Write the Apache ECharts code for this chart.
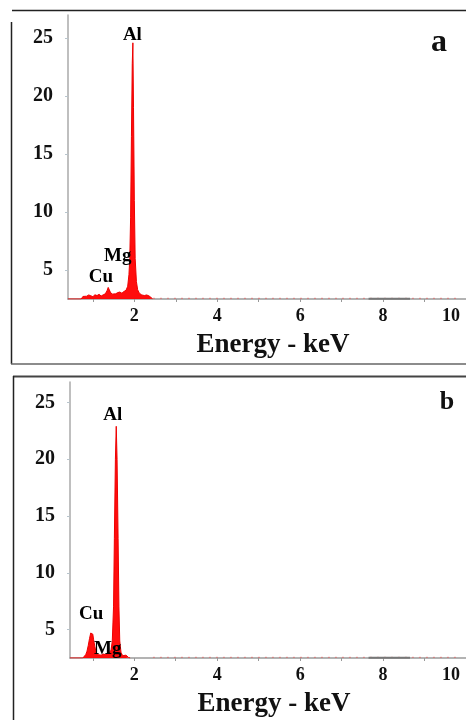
<!DOCTYPE html>
<html>
<head>
<meta charset="utf-8">
<script src="https://cdn.jsdelivr.net/npm/echarts@6/dist/echarts.min.js"></script>
<style>
html,body{margin:0;padding:0;background:#fff;}
#chart{width:466px;height:720px;}
</style>
</head>
<body>
<div id="chart"></div>
<script>
// ---- Data ----
// Panel a spectrum
const energyA = [0.40, 0.72, 0.76, 0.80, 0.85, 0.90, 0.95, 1.00, 1.05, 1.10, 1.15, 1.20, 1.25, 1.30, 1.34, 1.37, 1.39, 1.42, 1.46, 1.50, 1.55, 1.60, 1.65, 1.70, 1.75, 1.80, 1.84, 1.87, 1.89, 1.91, 1.93, 1.95, 1.965, 1.98, 2.00, 2.02, 2.05, 2.08, 2.12, 2.18, 2.24, 2.30, 2.36, 2.40, 2.44];
const countsA = [2.5, 2.5, 2.72, 2.8, 2.74, 2.85, 2.78, 2.7, 2.86, 2.8, 2.9, 2.76, 2.86, 2.95, 3.2, 3.5, 3.45, 3.1, 2.92, 3.0, 2.95, 3.05, 3.1, 3.0, 3.15, 3.25, 3.6, 4.6, 6.0, 9.5, 16.5, 22.8, 24.6, 19, 11, 6.0, 4.0, 3.3, 3.0, 2.85, 2.8, 2.85, 2.75, 2.7, 2.52];
// Panel b spectrum
const energyB = [0.45, 0.76, 0.80, 0.83, 0.86, 0.89, 0.92, 0.95, 0.98, 1.00, 1.02, 1.05, 1.08, 1.11, 1.15, 1.20, 1.25, 1.30, 1.35, 1.40, 1.44, 1.47, 1.50, 1.52, 1.545, 1.565, 1.585, 1.61, 1.63, 1.65, 1.68, 1.72, 1.76, 1.80, 1.83, 1.86, 1.90];
const countsB = [2.5, 2.5, 2.62, 2.8, 3.1, 3.6, 4.2, 4.7, 4.85, 4.6, 4.1, 3.5, 3.0, 2.8, 2.7, 2.75, 2.85, 2.8, 2.9, 2.95, 3.2, 4.0, 7.0, 13, 20, 22.9, 20, 13, 7.0, 4.0, 3.0, 2.7, 2.6, 2.75, 2.7, 2.55, 2.5];
// Baseline noise tail and darker baseline segment
const tailEnergy = [2.45, 9.8];
const tailCounts = [2.56, 2.56];
const segEnergy = [7.65, 8.65];
const segCounts = [2.52, 2.52];
// Peak labels: [energy, counts] anchor of each element label
const peakNamesA = ['Al', 'Mg', 'Cu'];
const peakEnergyA = [1.953, 1.60, 1.196];
const peakCountsA = [25.3, 6.2, 4.4];
const peakNamesB = ['Al', 'Cu', 'Mg'];
const peakEnergyB = [1.48, 0.96, 1.36];
const peakCountsB = [23.9, 6.37, 3.29];
// Axis ticks / labels
const xTickValues = [1, 2, 3, 4, 5, 6, 7, 8, 9, 10];
const xLabelValues = [2, 4, 6, 8, 10];
const yLabelValues = [5, 10, 15, 20, 25];
const xTitle = 'Energy - keV';

const FONT = '"Liberation Serif", "Times New Roman", serif';
const zip = (a, b) => a.map((v, i) => [v, b[i]]);

function xAxis(gridIndex, min) {
  return {
    type: 'value', gridIndex, min, max: 10,
    axisLine: { show: true, lineStyle: { color: '#9a9a9a', width: 1.5 } },
    axisTick: { show: true, length: 3, customValues: xTickValues, lineStyle: { color: '#999' } },
    splitLine: { show: false },
    axisLabel: {
      customValues: xLabelValues, margin: 8, color: '#111',
      fontFamily: FONT, fontWeight: 'bold', fontSize: 18,
      formatter: v => v === 10 ? '{s|10}' : String(v),
      rich: { s: { fontFamily: FONT, fontWeight: 'bold', fontSize: 18, color: '#111', padding: [0, 30, 0, 0] } }
    },
    name: xTitle, nameLocation: 'middle', nameGap: 33,
    nameTextStyle: { color: '#111', fontFamily: FONT, fontWeight: 'bold', fontSize: 27, padding: [0, 0, 0, 12] }
  };
}
function yAxis(gridIndex, max) {
  return {
    type: 'value', gridIndex, min: 2.5, max,
    axisLine: { show: true, lineStyle: { color: '#aaa', width: 1.5 } },
    axisTick: { show: true, length: 3, customValues: yLabelValues, lineStyle: { color: '#b8c4cc' } },
    splitLine: { show: false },
    axisLabel: { customValues: yLabelValues, margin: 15, color: '#111', fontFamily: FONT, fontWeight: 'bold', fontSize: 20 }
  };
}
function spectrum(i, e, c) {
  return {
    type: 'line', xAxisIndex: i, yAxisIndex: i, data: zip(e, c),
    showSymbol: false, symbol: 'none', z: 3,
    lineStyle: { color: '#ee0000', width: 1 },
    areaStyle: { color: '#ff0000', opacity: 0.95, origin: 'start' }
  };
}
function tail(i) {
  return {
    type: 'line', xAxisIndex: i, yAxisIndex: i, data: zip(tailEnergy, tailCounts),
    symbol: 'none', z: 2,
    lineStyle: { color: '#e06060', width: 1, type: [2, 5], opacity: 0.7 }
  };
}
function seg(i) {
  return {
    type: 'line', xAxisIndex: i, yAxisIndex: i, data: zip(segEnergy, segCounts),
    symbol: 'none', z: 2, lineStyle: { color: '#777', width: 2 }
  };
}
function labels(i, names, e, c) {
  return {
    type: 'scatter', xAxisIndex: i, yAxisIndex: i, symbolSize: 0, silent: true, z: 5,
    itemStyle: { opacity: 1 },
    data: names.map((n, k) => ({ name: n, value: [e[k], c[k]] })),
    label: { show: true, position: 'inside', formatter: '{b}', color: '#000', opacity: 1, fontFamily: FONT, fontWeight: 'bold', fontSize: 19 }
  };
}

const chart = echarts.init(document.getElementById('chart'), null, { renderer: 'canvas' });
chart.setOption({
  animation: false,
  backgroundColor: '#fff',
  grid: [
    { left: 68, top: 15, width: 406, height: 284 },
    { left: 70, top: 382, width: 404, height: 276 }
  ],
  xAxis: [xAxis(0, 0.4), xAxis(1, 0.45)],
  yAxis: [yAxis(0, 27), yAxis(1, 26.8)],
  series: [
    tail(0), seg(0), spectrum(0, energyA, countsA), labels(0, peakNamesA, peakEnergyA, peakCountsA),
    tail(1), seg(1), spectrum(1, energyB, countsB), labels(1, peakNamesB, peakEnergyB, peakCountsB)
  ],
  graphic: [
    { type: 'line', shape: { x1: 12, y1: 10.5, x2: 466, y2: 10.5 }, style: { stroke: '#222', lineWidth: 1.5 } },
    { type: 'line', shape: { x1: 11.5, y1: 22, x2: 11.5, y2: 364 }, style: { stroke: '#222', lineWidth: 1.5 } },
    { type: 'line', shape: { x1: 11, y1: 364, x2: 466, y2: 364 }, style: { stroke: '#666', lineWidth: 1.5 } },
    { type: 'line', shape: { x1: 13, y1: 376.5, x2: 466, y2: 376.5 }, style: { stroke: '#444', lineWidth: 2 } },
    { type: 'line', shape: { x1: 13.5, y1: 376, x2: 13.5, y2: 720 }, style: { stroke: '#222', lineWidth: 1.5 } },
    { type: 'text', x: 439, y: 43, style: { text: 'a', font: 'bold 32px ' + FONT, fill: '#111', align: 'center', verticalAlign: 'middle' } },
    { type: 'text', x: 447, y: 402, style: { text: 'b', font: 'bold 26px ' + FONT, fill: '#111', align: 'center', verticalAlign: 'middle' } }
  ]
});
</script>
</body>
</html>
